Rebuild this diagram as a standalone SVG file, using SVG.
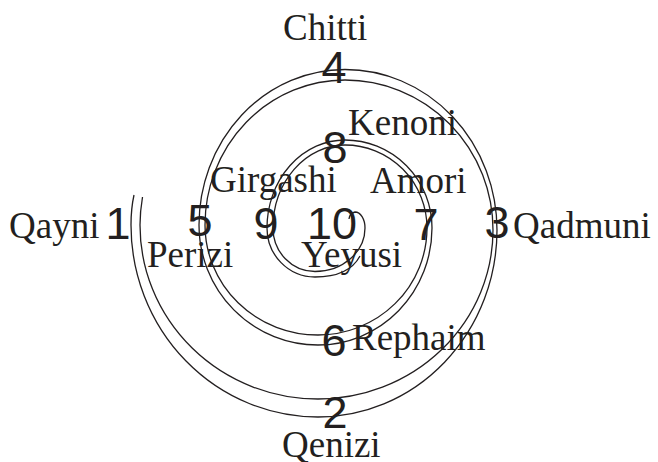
<svg xmlns="http://www.w3.org/2000/svg" width="658" height="462" viewBox="0 0 658 462">
<style>
.sp{fill:none;stroke:#231f20;stroke-width:1.3}
.num{font-family:"Liberation Sans",Arial,sans-serif;font-size:45px;fill:#231f20;text-anchor:middle}
.lab{font-family:"Liberation Serif","Times New Roman",serif;font-size:37px;fill:#231f20}
</style>
<rect width="658" height="462" fill="#fff"/>
<g id="connectors">
<path id="spiral-outer" class="sp" d="M134,195 C132,204 131,214 131,225 A187 192 0 0 0 318 417 A179 187 0 0 0 497 230 A152 160.5 0 0 0 345 69.5 A146 155.5 0 0 0 199 225 A119 120 0 0 0 318 345 A114 117 0 0 0 432 228 A87 88 0 0 0 345 140 A78 88 0 0 0 267 228 A48 49 0 0 0 315 277 C336,277 352,271 360,256"/>
<path id="spiral-inner" class="sp" d="M142.5,197 C141,206 140,215 140,225 A178 174 0 0 0 318 399 A175 169 0 0 0 493 230 A148 150 0 0 0 345 80 A140 145 0 0 0 205 225 A113 110 0 0 0 318 335 A109 107 0 0 0 427 228 A82 83 0 0 0 345 145 A72 83 0 0 0 273 228 A42 43.5 0 0 0 315 271.5 A50 43.5 0 0 0 365 228 A10 16 0 0 0 355 212 A8 8 0 0 0 349 219"/>
</g>
<g id="n1"><text class="num" x="118" y="239">1</text><text class="lab" x="9" y="238">Qayni</text></g>
<g id="n2"><text class="num" x="335" y="428">2</text><text class="lab" x="282" y="457">Qenizi</text></g>
<g id="n3"><text class="num" x="497" y="238">3</text><text class="lab" x="513" y="238">Qadmuni</text></g>
<g id="n4"><text class="num" x="334" y="83">4</text><text class="lab" x="283" y="40">Chitti</text></g>
<g id="n5"><text class="num" x="200" y="236">5</text><text class="lab" x="147" y="267">Perizi</text></g>
<g id="n6"><text class="num" x="334" y="356">6</text><text class="lab" x="352" y="350">Rephaim</text></g>
<g id="n7"><text class="num" x="426" y="240">7</text><text class="lab" x="370" y="193">Amori</text></g>
<g id="n8"><text class="num" x="335" y="163">8</text><text class="lab" x="348" y="135">Kenoni</text></g>
<g id="n9"><text class="num" x="266" y="239">9</text><text class="lab" x="210" y="192">Girgashi</text></g>
<g id="n10"><text class="num" x="332" y="239">10</text><text class="lab" x="301" y="267">Yeyusi</text></g>
</svg>
